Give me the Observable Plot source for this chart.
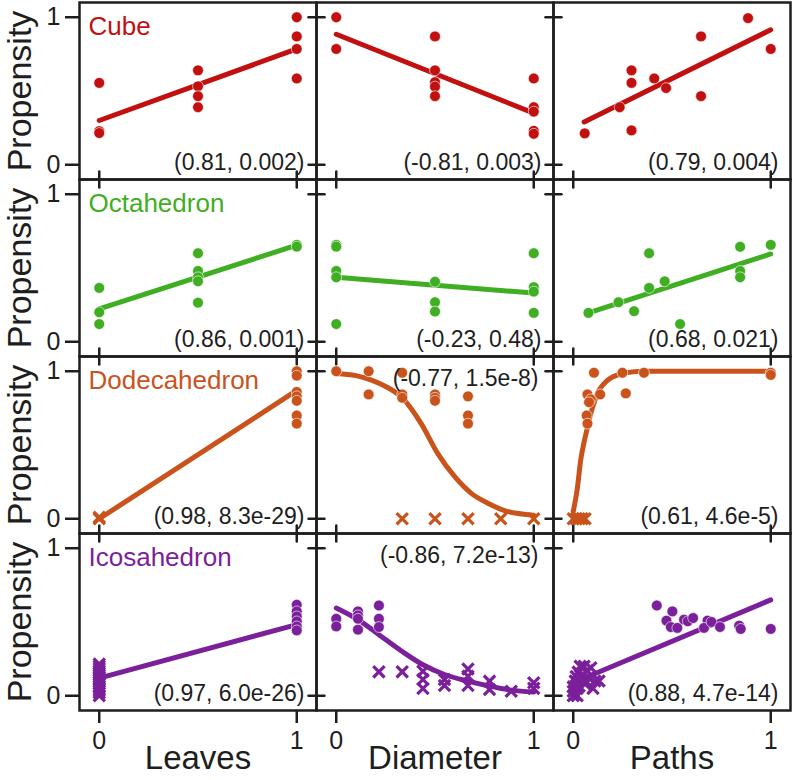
<!DOCTYPE html>
<html><head><meta charset="utf-8">
<script src="https://cdn.jsdelivr.net/npm/d3@7"></script>
<script src="https://cdn.jsdelivr.net/npm/@observablehq/plot@0.6"></script>
<style>body{margin:0;background:#fff}#chart{width:796px}</style>
</head><body><div id="chart"></div>
<script>
// ---------- data ----------
const rows = ["Cube", "Octahedron", "Dodecahedron", "Icosahedron"];
const cols = ["Leaves", "Diameter", "Paths"];
const xTicks = [0, 1];
const yTicks = [0, 1];
const yLabel = "Propensity";

const cubeNotes = ["(0.81, 0.002)", "(-0.81, 0.003)", "(0.79, 0.004)"];
const octNotes  = ["(0.86, 0.001)", "(-0.23, 0.48)", "(0.68, 0.021)"];
const dodNotes  = ["(0.98, 8.3e-29)", "(-0.77, 1.5e-8)", "(0.61, 4.6e-5)"];
const icoNotes  = ["(0.97, 6.0e-26)", "(-0.86, 7.2e-13)", "(0.88, 4.7e-14)"];

// Cube
const cubeLeavesDots = [[0,0.555],[0,0.228],[0,0.215],[0.5,0.64],[0.5,0.532],[0.5,0.465],[0.5,0.39],[1,1.0],[1,0.87],[1,0.785],[1,0.585]];
const cubeLeavesFit = [[0,0.30],[1,0.785]];
const cubeDiameterDots = [[0,1.0],[0,0.785],[0.5,0.87],[0.5,0.64],[0.5,0.56],[0.5,0.53],[0.5,0.465],[1,0.585],[1,0.39],[1,0.36],[1,0.23],[1,0.21]];
const cubeDiameterFit = [[0,0.885],[1,0.35]];
const cubePathsDots = [[0.058,0.213],[0.235,0.39],[0.295,0.64],[0.295,0.555],[0.295,0.233],[0.41,0.585],[0.47,0.52],[0.647,0.87],[0.647,0.465],[0.885,0.994],[1,0.785]];
const cubePathsFit = [[0.055,0.29],[1,0.915]];

// Octahedron
const octLeavesDots = [[0,0.365],[0,0.20],[0,0.12],[0.5,0.60],[0.5,0.48],[0.5,0.437],[0.5,0.41],[0.5,0.265],[1,0.657],[1,0.645]];
const octLeavesFit = [[0,0.223],[1,0.655]];
const octDiameterDots = [[0,0.657],[0,0.645],[0,0.48],[0,0.437],[0,0.12],[0.5,0.407],[0.5,0.268],[0.5,0.205],[1,0.60],[1,0.37],[1,0.34],[1,0.196]];
const octDiameterFit = [[0,0.437],[1,0.33]];
const octPathsDots = [[0.077,0.196],[0.229,0.268],[0.308,0.207],[0.384,0.60],[0.384,0.365],[0.463,0.41],[0.541,0.12],[0.845,0.644],[0.845,0.48],[0.845,0.437],[1,0.657]];
const octPathsFit = [[0.077,0.196],[1,0.595]];

// Dodecahedron
const dodLeavesDots = [[1,1.0],[1,0.97],[1,0.86],[1,0.83],[1,0.80],[1,0.70],[1,0.645]];
const dodLeavesCross = [[0,0],[0,0.01]];
const dodLeavesFit = [[0,0],[1,0.87]];
const dodDiameterDots = [[0,1.0],[0.164,1.0],[0.164,0.843],[0.334,0.99],[0.334,0.843],[0.334,0.82],[0.5,0.843],[0.5,0.82],[0.5,0.80],[0.667,0.83],[0.667,0.70],[0.667,0.645]];
const dodDiameterCross = [[0.334,0],[0.5,0],[0.667,0],[0.833,0],[1,0]];
const dodDiameterCurve = [[0,0.985],[0.1,0.97],[0.178,0.94],[0.26,0.89],[0.334,0.82],[0.43,0.645],[0.515,0.44],[0.6,0.285],[0.684,0.172],[0.768,0.105],[0.852,0.055],[1,0.024]];
const dodPathsDots = [[0.105,0.99],[0.072,0.843],[0.089,0.81],[0.08,0.79],[0.136,0.843],[0.068,0.70],[0.072,0.645],[0.249,0.99],[0.266,0.85],[0.358,0.99],[1,0.99],[1,0.975]];
const dodPathsCross = [[0,0],[0.015,0],[0.03,0],[0.045,0],[0.06,0]];
const dodPathsCurve = [[0,0.05],[0.02,0.2],[0.038,0.4],[0.055,0.52],[0.072,0.62],[0.09,0.72],[0.109,0.80],[0.13,0.87],[0.155,0.915],[0.185,0.95],[0.215,0.97],[0.27,0.99],[0.35,1.0],[1,1.0]];

// Icosahedron
const icoLeavesDots = [[1,0.617],[1,0.572],[1,0.538],[1,0.504],[1,0.47],[1,0.443]];
const icoLeavesCross = [[0,0.0],[0,0.02],[0,0.035],[0,0.05],[0,0.065],[0,0.08],[0,0.095],[0,0.11],[0,0.125],[0,0.14],[0,0.155],[0,0.17],[0,0.185],[0,0.2],[0,0.215]];
const icoLeavesFit = [[0,0.12],[1,0.482]];
const icoDiameterDots = [[0,0.522],[0,0.47],[0.11,0.572],[0.11,0.545],[0.11,0.522],[0.11,0.448],[0.216,0.612],[0.216,0.522],[0.216,0.466]];
const icoDiameterCross = [[0.216,0.162],[0.334,0.162],[0.439,0.166],[0.439,0.11],[0.439,0.049],[0.548,0.11],[0.548,0.07],[0.667,0.182],[0.667,0.132],[0.667,0.07],[0.776,0.099],[0.776,0.043],[0.886,0.031],[1,0.088],[1,0.05]];
const icoDiameterCurve = [[0,0.595],[0.11,0.516],[0.216,0.414],[0.334,0.30],[0.439,0.21],[0.548,0.144],[0.667,0.099],[0.776,0.065],[0.886,0.038],[1,0.025]];
const icoPathsDots = [[0.423,0.612],[0.502,0.572],[0.472,0.509],[0.494,0.466],[0.527,0.46],[0.561,0.516],[0.58,0.505],[0.607,0.527],[0.68,0.51],[0.662,0.46],[0.70,0.50],[0.743,0.466],[0.84,0.475],[0.848,0.453],[1,0.453]];
const icoPathsCross = [[0,0.0],[0,0.03],[0,0.06],[0.01,0.1],[0.015,0.13],[0.02,0.05],[0.025,0.16],[0.03,0.065],[0.035,0.2],[0.04,0.11],[0.05,0.14],[0.055,0.2],[0.06,0.08],[0.07,0.17],[0.08,0.12],[0.089,0.19],[0.1,0.05],[0.11,0.1],[0.131,0.1],[0.02,0.0]];
const icoPathsFit = [[0,0.088],[1,0.65]];

// ---------- styles ----------
const colors = ["#c20f0f", "#3fae22", "#c9531b", "#7b1f9a"];
const ink = "#1e1e1e";

// ---------- assemble ----------
const series = [
  ["Cube","Leaves",cubeLeavesDots,[],cubeLeavesFit],
  ["Cube","Diameter",cubeDiameterDots,[],cubeDiameterFit],
  ["Cube","Paths",cubePathsDots,[],cubePathsFit],
  ["Octahedron","Leaves",octLeavesDots,[],octLeavesFit],
  ["Octahedron","Diameter",octDiameterDots,[],octDiameterFit],
  ["Octahedron","Paths",octPathsDots,[],octPathsFit],
  ["Dodecahedron","Leaves",dodLeavesDots,dodLeavesCross,dodLeavesFit],
  ["Dodecahedron","Diameter",dodDiameterDots,dodDiameterCross,dodDiameterCurve],
  ["Dodecahedron","Paths",dodPathsDots,dodPathsCross,dodPathsCurve],
  ["Icosahedron","Leaves",icoLeavesDots,icoLeavesCross,icoLeavesFit],
  ["Icosahedron","Diameter",icoDiameterDots,icoDiameterCross,icoDiameterCurve],
  ["Icosahedron","Paths",icoPathsDots,icoPathsCross,icoPathsFit]
];
const dots = [], crosses = [], lines = [];
for (const [row, col, d, c, f] of series) {
  d.forEach(([x, y]) => dots.push({row, col, x, y}));
  c.forEach(([x, y]) => crosses.push({row, col, x, y}));
  f.forEach(([x, y]) => lines.push({row, col, x, y, key: row + col}));
}
const noteRows = [cubeNotes, octNotes, dodNotes, icoNotes];
const topNote = new Set(["Dodecahedron|Diameter", "Icosahedron|Diameter"]);
const notes = [];
rows.forEach((row, i) => cols.forEach((col, j) => notes.push({row, col, text: noteRows[i][j], top: topNote.has(row + "|" + col)})));

const rowLabels = rows.map(row => ({row, col: cols[0]}));
const yTickInner = [], xTickInner = [];
for (const row of rows) for (const col of cols.slice(1)) for (const v of yTicks) yTickInner.push({row, col, v});
for (const row of rows.slice(0, -1)) for (const col of cols) for (const v of xTicks) xTickInner.push({row, col, v});

const tickShape = {draw(context, l) { context.moveTo(0, 0); context.lineTo(0, -l); }};
const fmt = d => String(d);

const chart = Plot.plot({
  width: 796, height: 780,
  marginLeft: 78, marginRight: 6, marginTop: 1, marginBottom: 69,
  style: {fontFamily: "'Liberation Sans', Arial, Helvetica, sans-serif", background: "#fff"},
  x: {domain: [-0.1, 1.1]},
  y: {domain: [-0.1, 1.1]},
  fx: {domain: cols, padding: 0, axis: null},
  fy: {domain: rows, padding: 0, axis: null},
  color: {domain: rows, range: colors},
  marks: [
    Plot.frame({stroke: ink, strokeWidth: 2.5}),
    Plot.axisY(yTicks, {anchor: "left", facetAnchor: "left", tickSize: 14, tickPadding: 5, fontSize: 25, tickFormat: fmt, stroke: ink, fill: ink, strokeWidth: 2.5, label: null}),
    Plot.axisX(xTicks, {anchor: "bottom", facetAnchor: "bottom", tickSize: 13, tickPadding: 8, fontSize: 25, tickFormat: fmt, stroke: ink, fill: ink, strokeWidth: 2.5, label: null}),
    Plot.axisFx({anchor: "bottom", tickSize: 0, tickPadding: 35, fontSize: 33, fill: ink, label: null}),
    Plot.vector(yTickInner, {fx: "col", fy: "row", y: "v", frameAnchor: "left", rotate: 90, length: 16, anchor: "middle", shape: tickShape, stroke: ink, strokeWidth: 2.5}),
    Plot.vector(xTickInner, {fx: "col", fy: "row", x: "v", frameAnchor: "bottom", rotate: 0, length: 16, anchor: "middle", shape: tickShape, stroke: ink, strokeWidth: 2.5}),
    Plot.line(lines, {fx: "col", fy: "row", x: "x", y: "y", z: "key", stroke: "row", strokeWidth: 5, curve: "monotone-x", strokeLinecap: "round"}),
    Plot.dot(dots, {fx: "col", fy: "row", x: "x", y: "y", r: 5.4, fill: "row", stroke: "white", strokeWidth: 0.6}),
    Plot.dot(crosses, {fx: "col", fy: "row", x: "x", y: "y", r: 5.2, symbol: "times", stroke: "row", strokeWidth: 3.2}),
    Plot.text(rowLabels, {fx: "col", fy: "row", text: d => d.row, fill: "row", frameAnchor: "top-left", dx: 9, dy: 24, lineAnchor: "middle", textAnchor: "start", fontSize: 26}),
    Plot.text(rowLabels, {fx: "col", fy: "row", text: () => yLabel, fill: ink, frameAnchor: "left", dx: -59, rotate: -90, lineAnchor: "middle", textAnchor: "middle", fontSize: 34}),
    Plot.text(notes.filter(d => !d.top), {fx: "col", fy: "row", text: "text", fill: ink, frameAnchor: "bottom-right", dx: -12, dy: -17, lineAnchor: "middle", textAnchor: "end", fontSize: 23}),
    Plot.text(notes.filter(d => d.top), {fx: "col", fy: "row", text: "text", fill: ink, frameAnchor: "top-right", dx: -15, dy: 22, lineAnchor: "middle", textAnchor: "end", fontSize: 23})
  ]
});
document.getElementById("chart").append(chart);
</script></body></html>
